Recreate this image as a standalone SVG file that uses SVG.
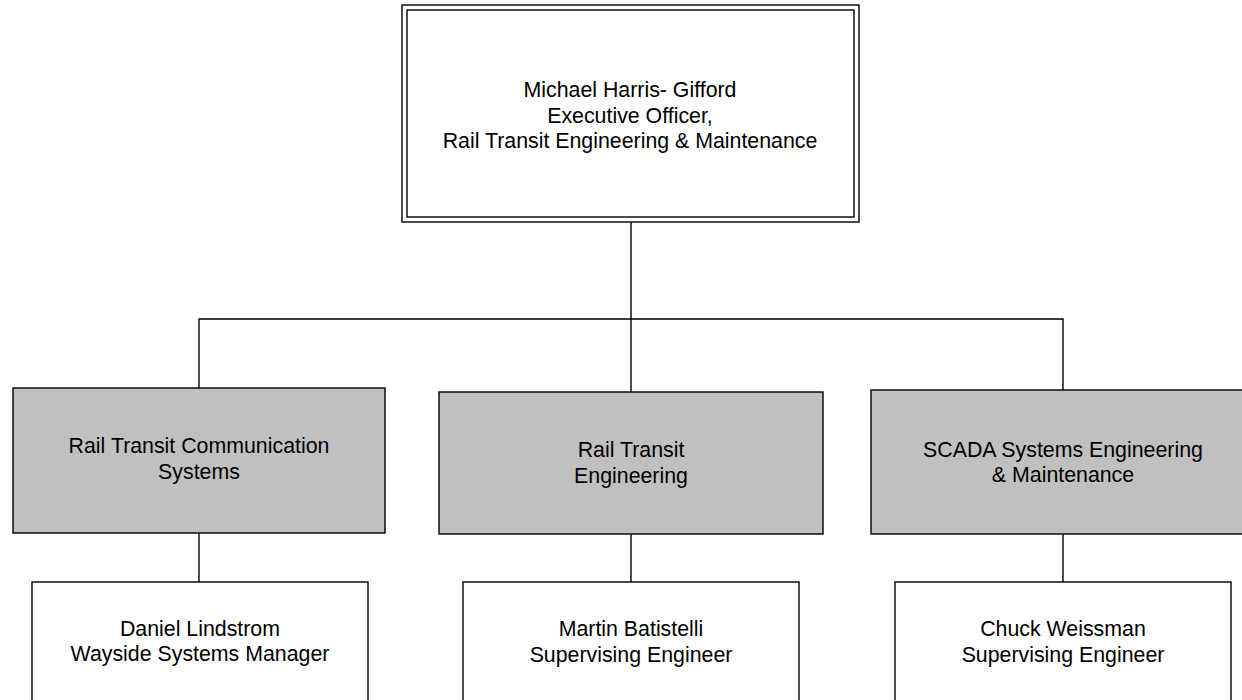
<svg xmlns="http://www.w3.org/2000/svg" width="1242" height="700" viewBox="0 0 1242 700">
<style>
.t{font-family:"Liberation Sans",Arial,sans-serif;font-size:21.33px;fill:#000;text-anchor:middle}
.w{fill:#fff;stroke:#000;stroke-width:1.4}
.g{fill:#c0c0c0;stroke:#000;stroke-width:1.4}
.c{fill:none;stroke:#000;stroke-width:1.4}
</style>
<rect width="1242" height="700" fill="#fff"/>
<g id="connectors">
<path class="c" d="M631,222 V392"/>
<path class="c" d="M199,388 V319 H1063 V390"/>
<path class="c" d="M199,533 V582"/>
<path class="c" d="M631,534 V582"/>
<path class="c" d="M1063,534 V582"/>
</g>
<g id="exec">
<rect class="w" x="402" y="5" width="457" height="217"/>
<rect class="w" x="407" y="10" width="447" height="207"/>
<text class="t" x="630" y="97">Michael Harris- Gifford</text>
<text class="t" x="630" y="122.6">Executive Officer,</text>
<text class="t" x="630" y="148.2">Rail Transit Engineering &amp; Maintenance</text>
</g>
<g id="comm">
<rect class="g" x="13" y="388" width="372" height="145"/>
<text class="t" x="199" y="453.3">Rail Transit Communication</text>
<text class="t" x="199" y="479">Systems</text>
</g>
<g id="eng">
<rect class="g" x="439" y="392" width="384" height="142"/>
<text class="t" x="631" y="457.3">Rail Transit</text>
<text class="t" x="631" y="482.5">Engineering</text>
</g>
<g id="scada">
<rect class="g" x="871" y="390" width="384" height="144"/>
<text class="t" x="1063" y="457">SCADA Systems Engineering</text>
<text class="t" x="1063" y="482">&amp; Maintenance</text>
</g>
<g id="lindstrom">
<rect class="w" x="32" y="582" width="336" height="130"/>
<text class="t" x="200" y="635.7">Daniel Lindstrom</text>
<text class="t" x="200" y="661">Wayside Systems Manager</text>
</g>
<g id="batistelli">
<rect class="w" x="463" y="582" width="336" height="130"/>
<text class="t" x="631" y="636">Martin Batistelli</text>
<text class="t" x="631" y="661.5">Supervising Engineer</text>
</g>
<g id="weissman">
<rect class="w" x="895" y="582" width="336" height="130"/>
<text class="t" x="1063" y="636">Chuck Weissman</text>
<text class="t" x="1063" y="661.5">Supervising Engineer</text>
</g>
</svg>
